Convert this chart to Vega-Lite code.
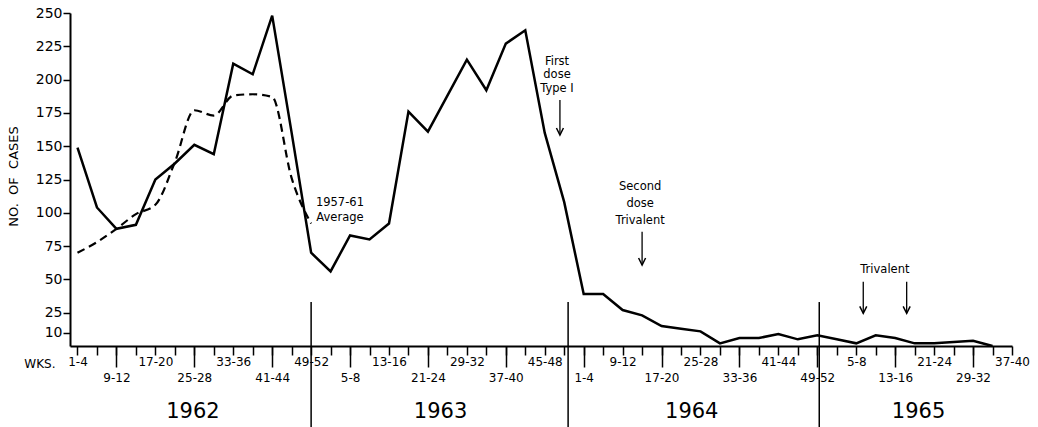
{
  "$schema": "https://vega.github.io/schema/vega-lite/v6.json",
  "autosize": "none",
  "width": 942,
  "height": 333,
  "padding": {"left": 70, "top": 13, "right": 26, "bottom": 81},
  "background": "white",
  "config": {
    "view": {"stroke": null},
    "font": "DejaVu Sans",
    "axis": {
      "grid": false,
      "domainColor": "black",
      "domainWidth": 2,
      "tickColor": "black",
      "tickWidth": 1.5,
      "labelColor": "black",
      "titleColor": "black",
      "labelFont": "DejaVu Sans",
      "titleFont": "DejaVu Sans",
      "labelOverlap": false
    },
    "text": {"font": "DejaVu Sans", "color": "black"}
  },
  "datasets": {
    "cases": [
      {"period": 0, "value": 149}, {"period": 1, "value": 104}, {"period": 2, "value": 88}, {"period": 3, "value": 91},
      {"period": 4, "value": 125}, {"period": 5, "value": 137}, {"period": 6, "value": 151}, {"period": 7, "value": 144},
      {"period": 8, "value": 212}, {"period": 9, "value": 204}, {"period": 10, "value": 248}, {"period": 11, "value": 160},
      {"period": 12, "value": 70}, {"period": 13, "value": 56}, {"period": 14, "value": 83}, {"period": 15, "value": 80},
      {"period": 16, "value": 92}, {"period": 17, "value": 176}, {"period": 18, "value": 161}, {"period": 19, "value": 188},
      {"period": 20, "value": 215}, {"period": 21, "value": 192}, {"period": 22, "value": 227}, {"period": 23, "value": 237},
      {"period": 24, "value": 160}, {"period": 25, "value": 108}, {"period": 26, "value": 39}, {"period": 27, "value": 39},
      {"period": 28, "value": 27}, {"period": 29, "value": 23}, {"period": 30, "value": 15}, {"period": 31, "value": 13},
      {"period": 32, "value": 11}, {"period": 33, "value": 2}, {"period": 34, "value": 6}, {"period": 35, "value": 6},
      {"period": 36, "value": 9}, {"period": 37, "value": 5}, {"period": 38, "value": 8}, {"period": 39, "value": 5},
      {"period": 40, "value": 2}, {"period": 41, "value": 8}, {"period": 42, "value": 6}, {"period": 43, "value": 2},
      {"period": 44, "value": 2}, {"period": 45, "value": 3}, {"period": 46, "value": 4}, {"period": 47, "value": 0}
    ],
    "average": [
      {"period": 0, "value": 70}, {"period": 1, "value": 78}, {"period": 2, "value": 88}, {"period": 3, "value": 99},
      {"period": 4, "value": 106}, {"period": 5, "value": 138}, {"period": 6, "value": 177}, {"period": 7, "value": 173},
      {"period": 8, "value": 188}, {"period": 9, "value": 189}, {"period": 10, "value": 187}, {"period": 11, "value": 126},
      {"period": 12, "value": 92}
    ],
    "dividers": [
      {"period": 12, "top": 33, "bottom": -62},
      {"period": 25.2, "top": 33, "bottom": -62},
      {"period": 38.1, "top": 33, "bottom": -62}
    ],
    "years": [
      {"period": 5.93, "value": -49.7, "label": "1962"},
      {"period": 18.65, "value": -49.7, "label": "1963"},
      {"period": 31.55, "value": -49.7, "label": "1964"},
      {"period": 43.2, "value": -49.7, "label": "1965"}
    ],
    "notes": [
      {"period": 13.48, "value": 107.5, "label": "1957-61"},
      {"period": 13.48, "value": 96, "label": "Average"},
      {"period": 24.63, "value": 213.4, "label": "First"},
      {"period": 24.63, "value": 203.5, "label": "dose"},
      {"period": 24.63, "value": 192.7, "label": "Type I"},
      {"period": 28.9, "value": 119, "label": "Second"},
      {"period": 28.9, "value": 106.6, "label": "dose"},
      {"period": 28.9, "value": 94, "label": "Trivalent"},
      {"period": 41.47, "value": 56.8, "label": "Trivalent"}
    ],
    "arrows": [
      {"period": 24.78, "top": 184.7, "tip": 158.4},
      {"period": 29.0, "top": 85.8, "tip": 60.8},
      {"period": 40.36, "top": 48.3, "tip": 24.5},
      {"period": 42.59, "top": 48.3, "tip": 24.5}
    ],
    "wks": [
      {"period": -1.93, "value": -13.2, "label": "WKS."}
    ]
  },
  "resolve": {"axis": {"x": "independent"}},
  "layer": [
    {
      "data": {"name": "cases"},
      "mark": {"type": "line", "color": "black", "strokeWidth": 2.5, "strokeJoin": "miter"},
      "encoding": {
        "x": {
          "field": "period", "type": "quantitative",
          "scale": {"domain": [-0.385, 48], "nice": false, "zero": false},
          "axis": {
            "orient": "bottom",
            "values": [0,1,2,3,4,5,6,7,8,9,10,11,12,13,14,15,16,17,18,19,20,21,22,23,24,25,26,27,28,29,30,31,32,33,34,35,36,37,38,39,40,41,42,43,44,45,46,47,48],
            "tickCount": 100,
            "labelExpr": "datum.value % 4 == 0 ? ((datum.value % 13) * 4 + 1) + '-' + ((datum.value % 13) * 4 + 4) : ''",
            "tickSize": 9,
            "labelPadding": 1,
            "labelFontSize": 12,
            "labelFlush": false,
            "labelOverlap": false,
            "title": null
          }
        },
        "y": {
          "field": "value", "type": "quantitative",
          "scale": {"domain": [0, 250], "nice": false, "zero": false},
          "axis": {
            "values": [10, 25, 50, 75, 100, 125, 150, 175, 200, 225, 250],
            "tickCount": 50,
            "tickSize": 7,
            "labelPadding": 1,
            "labelFontSize": 14,
            "labelFlush": false,
            "labelOverlap": false,
            "title": "NO.\u00a0\u00a0OF\u00a0\u00a0CASES",
            "titleFontSize": 13,
            "titleFontWeight": "normal",
            "titleX": -57,
            "titleY": 163,
            "titleAngle": 270,
            "titleAlign": "center",
            "titleBaseline": "middle"
          }
        }
      }
    },
    {
      "data": {"name": "average"},
      "mark": {"type": "line", "color": "black", "strokeWidth": 2.2, "strokeDash": [8, 5], "interpolate": "monotone"},
      "encoding": {
        "x": {
          "field": "period", "type": "quantitative",
          "axis": {
            "orient": "bottom",
            "values": [2,6,10,14,18,22,26,30,34,38,42,46],
            "tickCount": 100,
            "labelExpr": "((datum.value % 13) * 4 + 1) + '-' + ((datum.value % 13) * 4 + 4)",
            "tickSize": 21,
            "labelPadding": 5,
            "labelFontSize": 12,
            "labelFlush": false,
            "labelOverlap": false,
            "domain": false,
            "title": null
          }
        },
        "y": {"field": "value", "type": "quantitative"}
      }
    },
    {
      "data": {"name": "dividers"},
      "mark": {"type": "rule", "color": "black", "strokeWidth": 1.5},
      "encoding": {
        "x": {"field": "period", "type": "quantitative", "axis": null},
        "y": {"field": "top", "type": "quantitative"},
        "y2": {"field": "bottom"}
      }
    },
    {
      "data": {"name": "years"},
      "mark": {"type": "text", "fontSize": 21, "align": "center", "baseline": "middle"},
      "encoding": {
        "x": {"field": "period", "type": "quantitative", "axis": null},
        "y": {"field": "value", "type": "quantitative"},
        "text": {"field": "label"}
      }
    },
    {
      "data": {"name": "notes"},
      "mark": {"type": "text", "fontSize": 11.5, "align": "center", "baseline": "middle"},
      "encoding": {
        "x": {"field": "period", "type": "quantitative", "axis": null},
        "y": {"field": "value", "type": "quantitative"},
        "text": {"field": "label"}
      }
    },
    {
      "data": {"name": "wks"},
      "mark": {"type": "text", "fontSize": 12, "align": "center", "baseline": "middle"},
      "encoding": {
        "x": {"field": "period", "type": "quantitative", "axis": null},
        "y": {"field": "value", "type": "quantitative"},
        "text": {"field": "label"}
      }
    },
    {
      "data": {"name": "arrows"},
      "mark": {"type": "rule", "color": "black", "strokeWidth": 1.3},
      "encoding": {
        "x": {"field": "period", "type": "quantitative", "axis": null},
        "y": {"field": "top", "type": "quantitative"},
        "y2": {"field": "tip"}
      }
    },
    {
      "data": {"name": "arrows"},
      "mark": {"type": "point", "shape": "M-1.4,-2.8L0,0L1.4,-2.8", "size": 25, "filled": false, "stroke": "black", "strokeWidth": 1.5, "opacity": 1},
      "encoding": {
        "x": {"field": "period", "type": "quantitative", "axis": null},
        "y": {"field": "tip", "type": "quantitative"}
      }
    }
  ]
}
